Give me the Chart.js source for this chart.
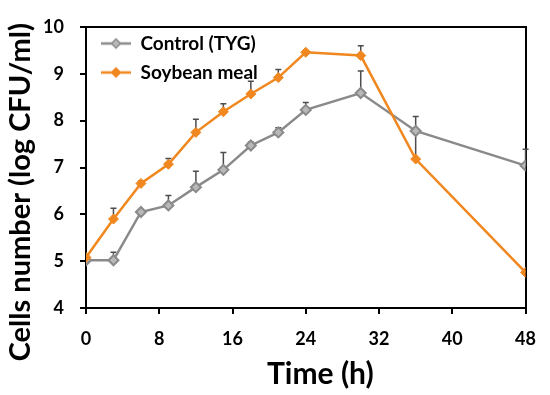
<!DOCTYPE html>
<html>
<head>
<meta charset="utf-8">
<script src="https://cdn.jsdelivr.net/npm/chart.js@4.4.1/dist/chart.umd.min.js"></script>
<style>
  html, body { margin: 0; padding: 0; background: #fff; }
  #wrap { width: 550px; height: 395px; }
</style>
</head>
<body>
<div id="wrap"><canvas id="my-chart" width="550" height="395"></canvas></div>
<script>
const hours = [0, 3, 6, 9, 12, 15, 18, 21, 24, 30, 36, 48];
const control = [5.02, 5.02, 6.05, 6.19, 6.58, 6.95, 7.47, 7.75, 8.23, 8.59, 7.78, 7.04];
const controlErr = [0, 0.17, 0.05, 0.21, 0.34, 0.37, 0.07, 0.1, 0.16, 0.47, 0.31, 0.35];
const soybean = [5.08, 5.9, 6.66, 7.07, 7.75, 8.19, 8.57, 8.92, 9.46, 9.39, 7.18, 4.76];
const soybeanErr = [0, 0.23, 0.05, 0.12, 0.28, 0.17, 0.27, 0.17, 0.03, 0.21, 0.6, 0];
const seriesNames = ["Control (TYG)", "Soybean meal"];

const grey = "#8a8a8a", greyFill = "#b8b8b8", orange = "#f0871f";
const font = "Lato";

// little line + diamond picture for the legend
function legendMark(line, fill) {
  const c = document.createElement("canvas");
  c.width = 30; c.height = 12;
  const g = c.getContext("2d");
  g.strokeStyle = line; g.lineWidth = 2.5;
  g.beginPath(); g.moveTo(0, 6); g.lineTo(30, 6); g.stroke();
  g.fillStyle = fill; g.lineWidth = 1.5;
  g.beginPath(); g.moveTo(15, 1.5); g.lineTo(19.5, 6); g.lineTo(15, 10.5); g.lineTo(10.5, 6); g.closePath();
  g.fill(); g.stroke();
  return c;
}
const marks = [legendMark(grey, greyFill), legendMark(orange, orange)];

const errorBars = {
  id: "errorBars",
  // legend in the chart area starts at top 0, move it inside the frame
  afterLayout(chart) {
    const l = chart.legend, a = chart.chartArea;
    l.top = a.top - 3;
    l.bottom = a.bottom;
    l.left = a.left + 5;
  },
  beforeDatasetsDraw(chart) {
    const ctx = chart.ctx, xs = chart.scales.x, ys = chart.scales.y;
    ctx.save();
    ctx.strokeStyle = "#4d4d4d";
    ctx.lineWidth = 1.5;
    chart.data.datasets.forEach(ds => {
      ds.data.forEach((p, i) => {
        const e = ds.errors[i];
        if (!e) return;
        const x = xs.getPixelForValue(p.x);
        const y0 = ys.getPixelForValue(p.y);
        const y1 = ys.getPixelForValue(p.y + e);
        ctx.beginPath();
        ctx.moveTo(x, y0); ctx.lineTo(x, y1);
        ctx.moveTo(x - 3, y1); ctx.lineTo(x + 3, y1);
        ctx.stroke();
      });
    });
    ctx.restore();
  }
};

const ctx = document.getElementById("my-chart").getContext("2d");
new Chart(ctx, {
  type: "line",
  data: {
    datasets: [{
      label: seriesNames[0],
      data: hours.map((h, i) => ({x: h, y: control[i]})),
      errors: controlErr,
      borderColor: grey,
      borderWidth: 2.5,
      pointStyle: "rectRot",
      pointRadius: 5,
      pointBackgroundColor: greyFill,
      pointBorderColor: grey,
      pointBorderWidth: 2,
      order: 1
    }, {
      label: seriesNames[1],
      data: hours.map((h, i) => ({x: h, y: soybean[i]})),
      errors: soybeanErr,
      borderColor: orange,
      borderWidth: 2.5,
      pointStyle: "rectRot",
      pointRadius: 5,
      pointBackgroundColor: orange,
      pointBorderColor: orange,
      pointBorderWidth: 1,
      order: 0
    }]
  },
  plugins: [errorBars],
  options: {
    responsive: false,
    animation: false,
    layout: { padding: { top: 27, right: 15, left: 0, bottom: 0 } },
    plugins: {
      tooltip: { enabled: false },
      legend: {
        position: "chartArea",
        align: "start",
        labels: {
          usePointStyle: true,
          pointStyleWidth: 30,
          padding: 10,
          color: "#000",
          font: { family: font, size: 19, weight: "bold" },
          generateLabels: chart => chart.data.datasets.map((ds, i) => ({
            text: ds.label,
            pointStyle: marks[i],
            fillStyle: ds.borderColor,
            strokeStyle: ds.borderColor,
            lineWidth: 0,
            datasetIndex: i,
            fontColor: "#000"
          }))
        }
      }
    },
    scales: {
      x: {
        type: "linear",
        min: 0, max: 48,
        afterFit: s => { s.height = 87; },
        ticks: { stepSize: 8, color: "#000", padding: 14, font: { family: font, size: 18, weight: "bold" } },
        grid: { drawOnChartArea: false, drawTicks: true, tickLength: 6, color: "#000", lineWidth: 2 },
        border: { color: "#000", width: 2 },
        title: { display: true, text: "    Time (h)", color: "#000", padding: { top: 0, bottom: 3 },
                 font: { family: font, size: 30, weight: "bold" } }
      },
      y: {
        min: 4, max: 10,
        afterFit: s => { s.width = 86; },
        ticks: { stepSize: 1, color: "#000", padding: 16, font: { family: font, size: 18, weight: "bold" } },
        grid: { drawOnChartArea: false, drawTicks: true, tickLength: 6, color: "#000", lineWidth: 2 },
        border: { color: "#000", width: 2 },
        title: { display: true, text: "Cells number (log CFU/ml)       ", color: "#000", padding: { top: 3, bottom: 0 },
                 font: { family: font, size: 29, weight: "bold" } }
      },
      xTop: {
        type: "linear", position: "top", min: 0, max: 48,
        afterFit: s => { s.height = 0; },
        ticks: { display: false },
        grid: { display: false },
        border: { color: "#000", width: 2 }
      },
      yRight: {
        type: "linear", position: "right", min: 4, max: 10,
        afterFit: s => { s.width = 0; },
        ticks: { display: false },
        grid: { display: false },
        border: { color: "#000", width: 2 }
      }
    }
  }
});
</script>
</body>
</html>
